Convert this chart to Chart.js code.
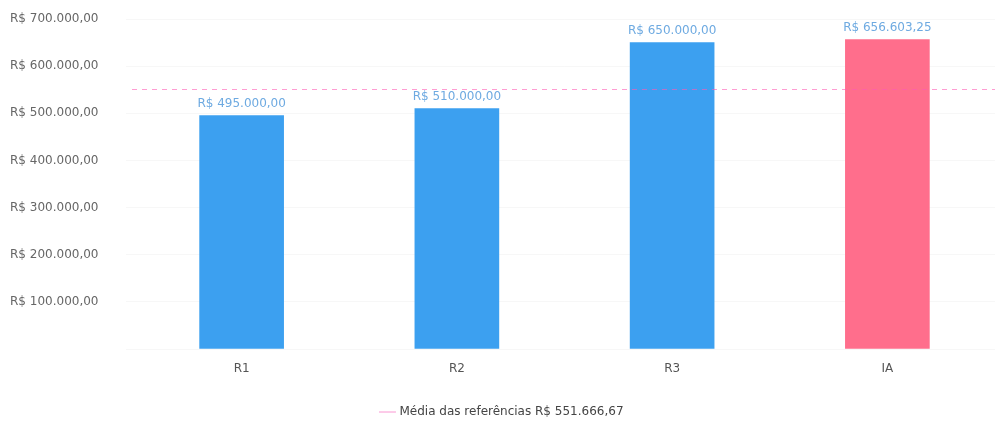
<!DOCTYPE html>
<html>
<head>
<meta charset="utf-8">
<script src="https://cdn.jsdelivr.net/npm/chart.js@4"></script>
<style>
  html, body { margin: 0; padding: 0; background: #fff; }
  #wrap { width: 995px; height: 421px; }
</style>
</head>
<body>
<div id="wrap"><canvas id="chart"></canvas></div>
<script>
const categories = ['R1', 'R2', 'R3', 'IA'];
const values = [495000, 510000, 650000, 656603.25];
const barColors = ['rgb(60,160,240)', 'rgb(60,160,240)', 'rgb(60,160,240)', 'rgb(255,110,140)'];
const average = 551666.67;
const averageLabel = 'Média das referências';
const yTicks = [100000, 200000, 300000, 400000, 500000, 600000, 700000];

// R$ 1.234,56 style
function brl(v) {
  const parts = v.toFixed(2).split('.');
  const int = parts[0].replace(/\B(?=(\d{3})+(?!\d))/g, '.');
  return 'R$ ' + int + ',' + parts[1];
}

const barLabels = {
  id: 'barLabels',
  afterDatasetsDraw(chart) {
    const ctx = chart.ctx;
    const meta = chart.getDatasetMeta(0);
    ctx.save();
    ctx.font = '12px "DejaVu Sans"';
    ctx.fillStyle = 'rgb(110,170,225)';
    ctx.textAlign = 'center';
    ctx.textBaseline = 'bottom';
    meta.data.forEach((bar, i) => {
      ctx.fillText(brl(values[i]), bar.x, bar.y - 6);
    });
    ctx.restore();
  }
};

// average line across the whole plot area
const averageLine = {
  id: 'averageLine',
  afterDatasetsDraw(chart) {
    const {ctx, chartArea} = chart;
    const y = Math.round(chart.scales.y.getPixelForValue(average)) + 0.5;
    ctx.save();
    ctx.strokeStyle = 'rgba(255,90,180,0.6)';
    ctx.lineWidth = 1;
    ctx.setLineDash([5, 5]);
    ctx.beginPath();
    ctx.moveTo(chartArea.left - 2, y);
    ctx.lineTo(chartArea.right, y);
    ctx.stroke();
    ctx.restore();
  }
};

new Chart(document.getElementById('chart').getContext('2d'), {
  type: 'bar',
  data: {
    labels: categories,
    datasets: [
      {
        label: 'valores',
        data: values,
        backgroundColor: barColors,
        barThickness: 84
      },
      {
        type: 'line',
        label: averageLabel + ' ' + brl(average),
        data: categories.map(() => average),
        borderColor: 'rgb(250,150,210)',
        backgroundColor: 'rgb(250,150,210)',
        borderWidth: 1,
        showLine: false,
        pointRadius: 0,
        fill: false
      }
    ]
  },
  options: {
    responsive: true,
    maintainAspectRatio: false,
    animation: false,
    layout: { padding: { top: 19, right: 0, left: 10, bottom: -7 } },
    scales: {
      x: {
        grid: { display: false },
        border: { display: false },
        afterFit: (scale) => { scale.height = 56; },
        ticks: { color: '#555', font: { size: 12, family: 'DejaVu Sans' }, padding: 5 }
      },
      y: {
        min: 0,
        max: 700000,
        grid: { color: 'rgba(0,0,0,0.03)' },
        border: { display: false },
        afterBuildTicks: (scale) => { scale.ticks = [{value: 0}].concat(yTicks.map(v => ({value: v}))); },
        afterFit: (scale) => { scale.width = 124; },
        ticks: {
          crossAlign: 'far',
          color: '#666',
          font: { size: 12, family: 'DejaVu Sans' },
          callback: (v) => v === 0 ? '' : brl(v)
        }
      }
    },
    plugins: {
      legend: {
        position: 'bottom',
        labels: {
          filter: (item) => item.datasetIndex === 1,
          usePointStyle: true,
          pointStyle: 'line',
          boxWidth: 14,
          padding: 1,
          color: '#444',
          font: { size: 12, family: 'DejaVu Sans' }
        }
      },
      tooltip: { enabled: false }
    }
  },
  plugins: [barLabels, averageLine]
});
</script>
</body>
</html>
